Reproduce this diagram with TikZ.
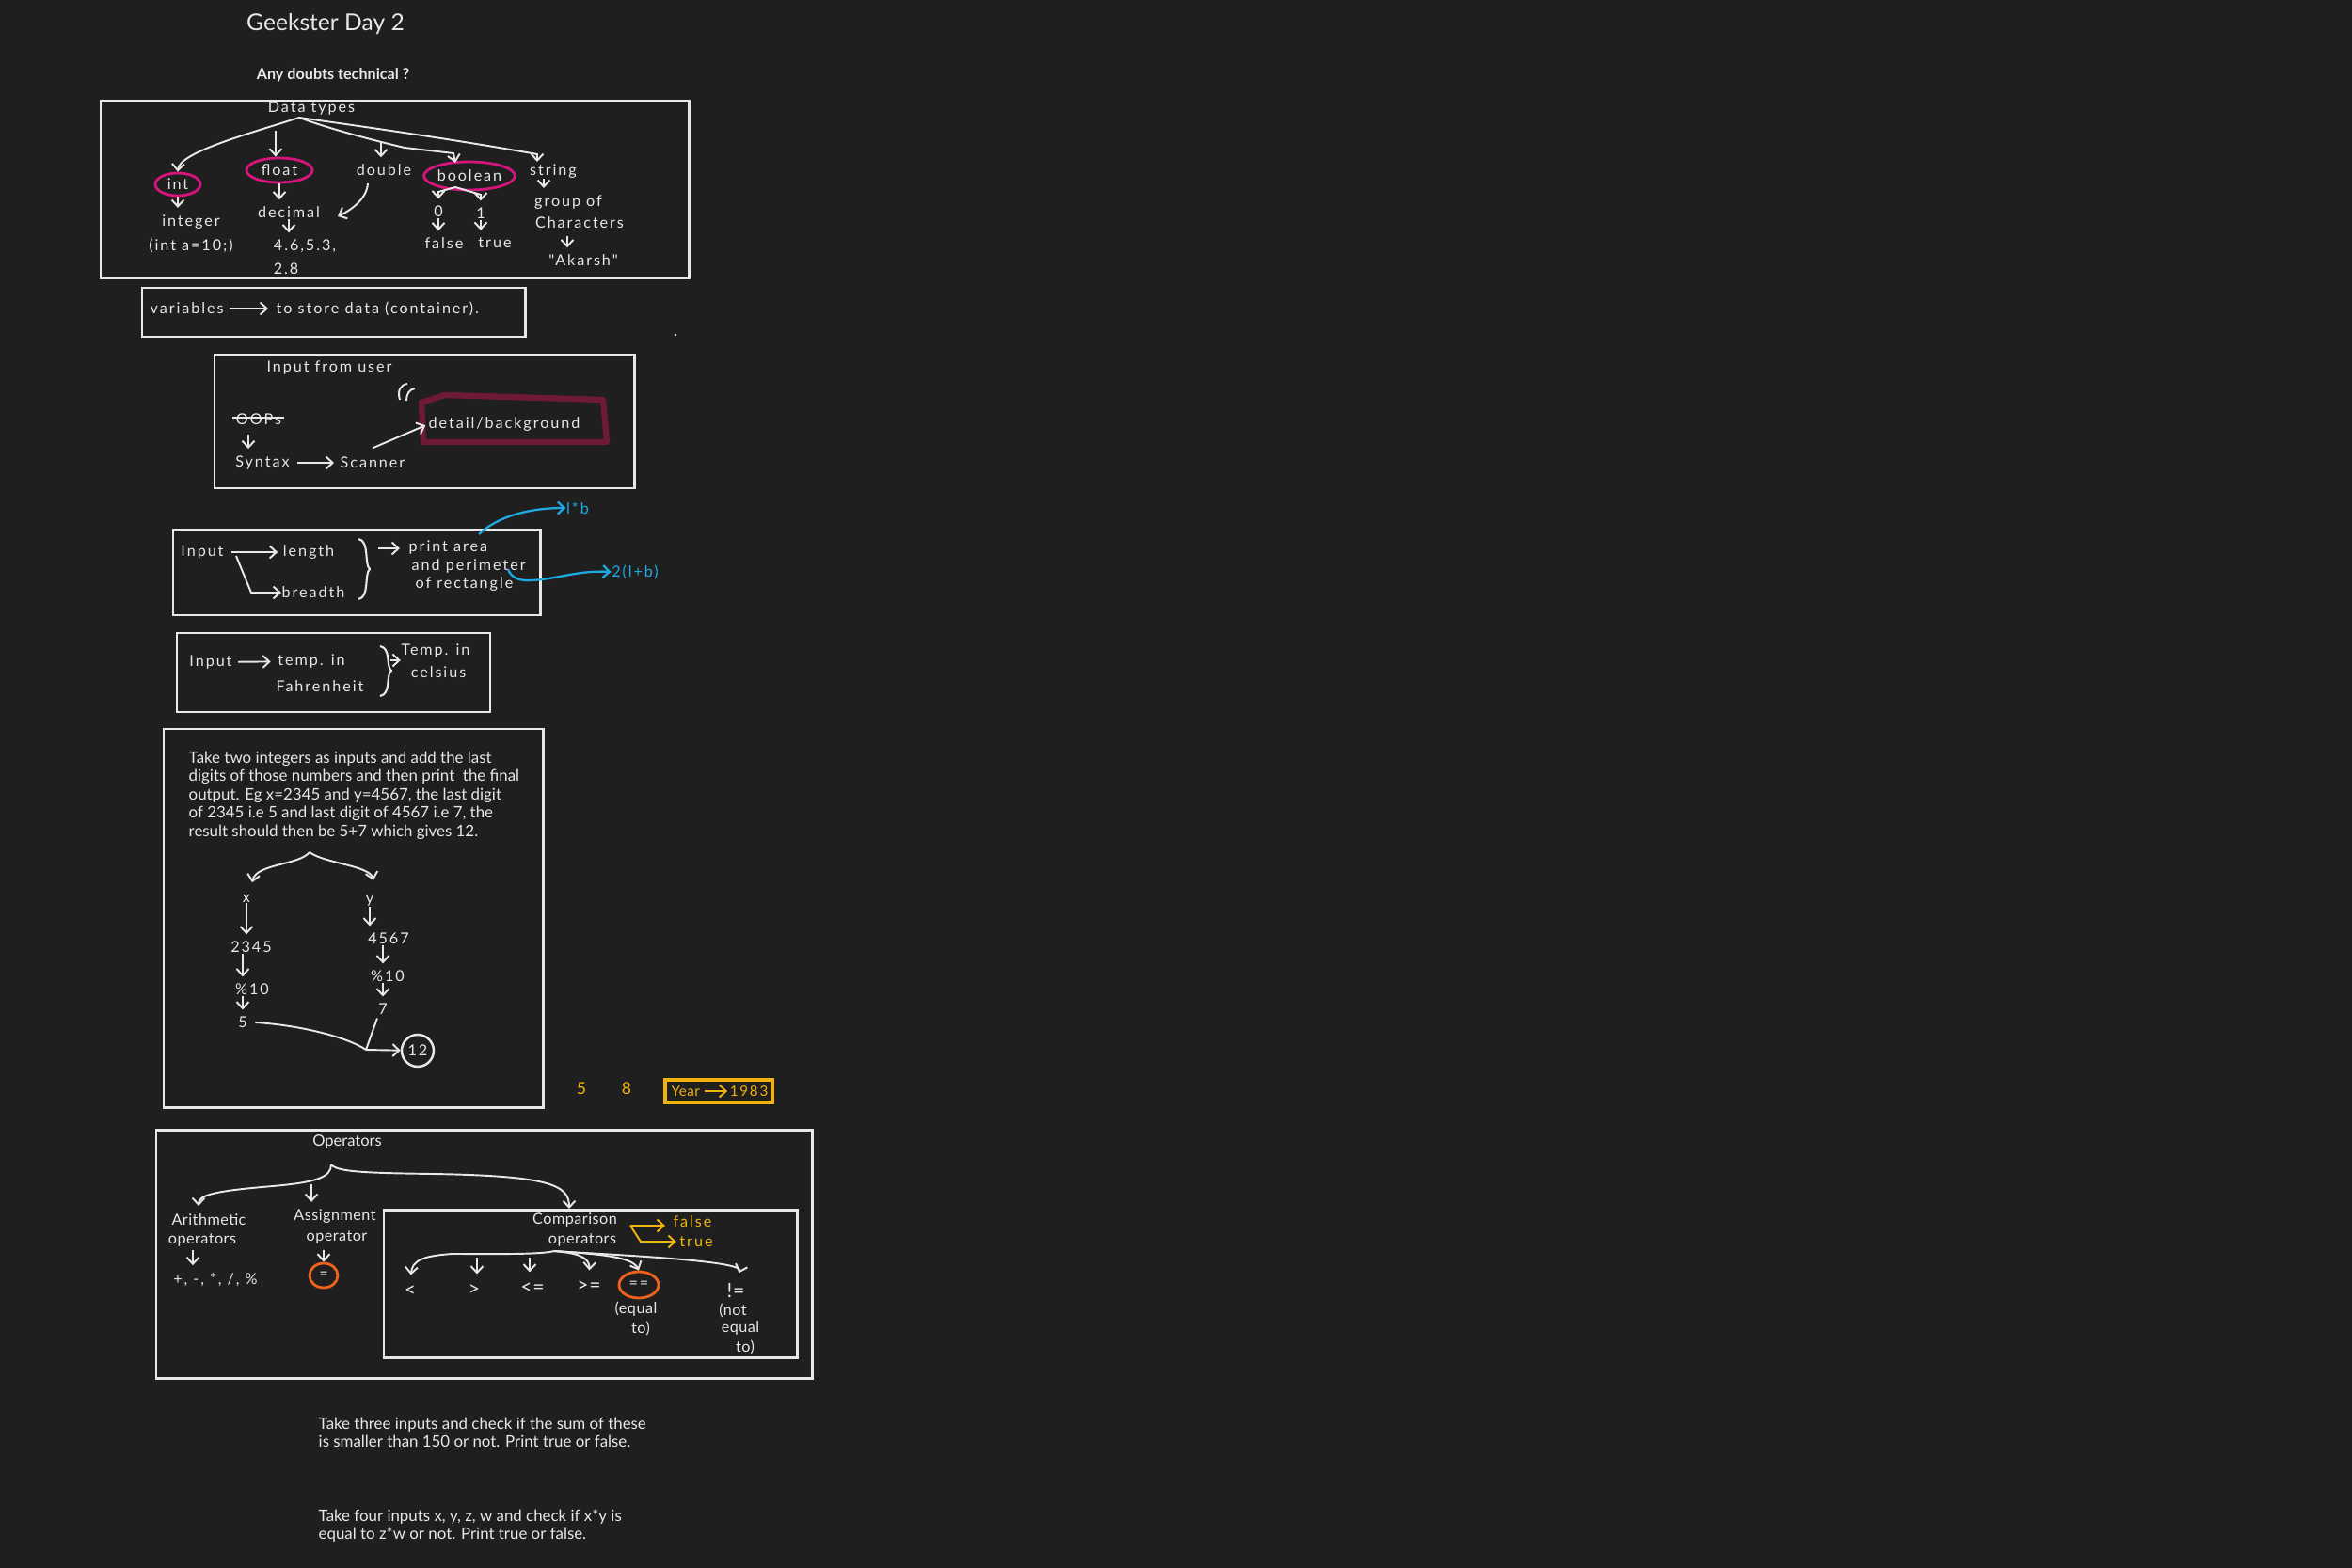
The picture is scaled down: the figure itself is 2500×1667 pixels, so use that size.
\documentclass[tikz,border=0pt]{standalone}
\usepackage{fontspec}
\setmainfont{Lato}
\newfontfamily\spaced[LetterSpace=12]{Lato}
\newfontfamily\narrowhand[LetterSpace=3]{Lato}
\usetikzlibrary{arrows.meta,shapes.geometric}
\definecolor{bg}{HTML}{1F1F1F}
\definecolor{ink}{HTML}{E8E8E8}
\definecolor{mag}{HTML}{D4167C}
\definecolor{wine}{HTML}{6E1A34}
\definecolor{sky}{HTML}{1EA9E2}
\definecolor{gold}{HTML}{F2B30E}
\definecolor{orng}{HTML}{F0611C}
\begin{document}
\begin{tikzpicture}[x=0.1mm,y=-0.1mm,
  lbl/.style={text=ink, inner sep=0pt, font=\spaced\fontsize{4.6}{5.5}\selectfont},
  olbl/.style={text=ink, inner sep=0pt, font=\narrowhand\fontsize{4.6}{5.5}\selectfont},
  sym/.style={text=ink, inner sep=0pt, font=\narrowhand\fontsize{6}{7}\selectfont},
  note/.style={text=ink, inner sep=0pt, align=left, font=\fontsize{4.8}{5.55}\selectfont},
  frame/.style={draw=ink, line width=0.85pt},
  link/.style={draw=ink, line width=0.55pt},
  arr/.style={link, -{Straight Barb[length=0.7mm,width=1.3mm]}},
  sarr/.style={arr, shorten >=0.7mm},
  oval/.style={ellipse, draw=#1, line width=0.8pt, inner sep=0pt, text=ink,
    font=\spaced\fontsize{4.6}{5.5}\selectfont},
  bracket/.style={link, line width=0.6pt},
]
\fill[bg] (0,0) rectangle (2500,1667);
\useasboundingbox (0,0) rectangle (2500,1667);

% ---------- heading ----------
\node[text=ink, inner sep=0pt, font=\fontsize{7}{8}\selectfont] (title) at (346,26) {Geekster Day 2};
\node[text=ink, inner sep=0pt, font=\bfseries\fontsize{4.6}{5.5}\selectfont] (doubts) at (354,80) {Any doubts technical ?};

% ---------- data types ----------
\draw[frame] (107,107) rectangle (732,296);
\node[lbl] (dtypes) at (331,115) {Data types};
\coordinate (fork) at (318,125);
\node[oval=mag, minimum width=4.8mm, minimum height=2.4mm] (int) at (189,196) {int};
\node[oval=mag, minimum width=7mm, minimum height=2.6mm] (float) at (297,181) {float};
\node[lbl] (double) at (408,181) {double};
\node[oval=mag, minimum width=9mm, minimum height=3mm] (bool) at (499,187) {boolean};
\node[lbl] (string) at (588,182) {string};

\coordinate (fa) at (293,139);
\coordinate (da) at (405,151);
\coordinate (bt0) at (484,173);
\coordinate (st0) at (571,172);
\draw[arr] (fork) .. controls (265,142) and (190,162) .. (int.north);
\draw[arr] (fa) -- (fa |- float.north);
\draw[sarr] (da) -- (da |- double.north);
\draw[arr] (fork) .. controls (350,137) and (400,150) .. (430,157) -- (482,163) -- (bt0);
\draw[arr] (fork) .. controls (360,131) and (470,146) .. (571,164) -- (st0);

\node[lbl] (integer) at (203,236) {integer};
\node[lbl] (intex) at (203,261) {(int a=10;)};
\draw[sarr] (int.south) -- (int.south |- integer.north);

\node[lbl] (decimal) at (307,226) {decimal};
\node[lbl] (dvals) at (324,262) {4.6,5.3,};
\node[lbl] (dval2) at (304,286) {2.8};
\draw[sarr] (float.south) -- (float.south |- decimal.north);
\draw[sarr] (decimal.south) -- (decimal.south |- dvals.north);
\coordinate (dc) at (391,195);
\coordinate (dce) at (359,230);
\draw[arr] (dc) .. controls (390,212) and (372,224) .. (dce);

\node[lbl] (b0) at (466,225) {0};
\node[lbl] (b1) at (511,227) {1};
\node[lbl] (bf) at (472,259) {false};
\node[lbl] (bt) at (526,258) {true};
\coordinate (bfork) at (484,199);
\coordinate (bl) at (466,204);
\coordinate (br) at (511,207);
\draw[sarr] (bfork) -- (bl) -- (bl |- b0.north);
\draw[sarr] (bfork) -- (br) -- (br |- b1.north);
\draw[sarr] (b0.south) -- (b0.south |- bf.north);
\draw[sarr] (b1.south) -- (b1.south |- bt.north);

\node[lbl] (grp) at (604,215) {group of};
\node[lbl] (chars) at (616,237) {Characters};
\node[lbl] (akarsh) at (620,277) {"Akarsh"};
\coordinate (sa) at (578,190);
\coordinate (ca) at (603,251);
\draw[sarr] (sa) -- (sa |- grp.north);
\draw[sarr] (ca) -- (ca |- akarsh.north);

% ---------- variables ----------
\draw[frame] (151,306) rectangle (558,358);
\node[lbl, anchor=west] (vars) at (159,328) {variables};
\node[lbl, anchor=west] (store) at (293,328) {to store data (container).};
\draw[arr, shorten <=0.6mm, shorten >=0.8mm] (vars) -- (store);

% ---------- input from user ----------
\draw[frame] (228,377) rectangle (674,519);
\node[lbl] (ifu) at (350,391) {Input from user};
\node[lbl] (oops) at (275,446) {OOPs};
\draw[link] ([xshift=-0.3mm,yshift=0.2mm]oops.west) -- ([xshift=0.2mm,yshift=0.2mm]oops.east);
\node[lbl] (syntax) at (279,492) {Syntax};
\node[lbl] (scanner) at (396,492) {Scanner};
\node[lbl, anchor=west] (detail) at (455,451) {detail/background};
\draw[wine, line width=1.8pt, line join=round] (448,428) -- (473,420) -- (641,425) -- (645,470) -- (450,470) -- cycle;
\draw[link] (425,425) .. controls (422,415) and (426,409) .. (433,408);
\draw[link] (432,426) .. controls (432,419) and (435,414) .. (441,413);
\coordinate (oa) at (264,462);
\draw[sarr] (oa) -- (oa |- syntax.north);
\draw[arr, shorten <=0.8mm, shorten >=0.6mm] (syntax) -- (scanner);
\draw[arr, shorten >=0.3mm] ([yshift=0.9mm]scanner.north) -- (detail.west);
\fill[ink] (718,356) circle (1.4);

% ---------- rectangle ----------
\draw[frame] (184,563) rectangle (574,654);
\node[lbl] (inp1) at (215,587) {Input};
\node[lbl] (len) at (328,587) {length};
\node[lbl] (bre) at (333,630) {breadth};
\draw[arr, shorten <=0.8mm, shorten >=0.5mm] (inp1) -- (len);
\coordinate (ib) at (251,591);
\draw[arr] (ib) -- (267,630) -- (bre);
\draw[bracket] (381,573) .. controls (393,575) and (387,600) .. (393,605)
  .. controls (387,610) and (393,635) .. (381,637);
\node[lbl, anchor=west] (parea) at (434,582) {print area};
\node[lbl, anchor=west] (pper) at (437,602) {and perimeter};
\node[lbl, anchor=west] (prect) at (441,621) {of rectangle};
\coordinate (b1t) at (402,583);
\draw[arr, shorten >=0.9mm] (b1t) -- (b1t -| parea.west);

\node[lbl, text=sky] (lb) at (614,540) {l*b};
\node[lbl, text=sky] (lpb) at (675,608) {2(l+b)};
\coordinate (bs1) at (509,568);
\coordinate (bs2) at (540,605);
\draw[arr, draw=sky, line width=0.65pt] (bs1) .. controls (530,548) and (565,540) .. (lb.west);
\draw[arr, draw=sky, line width=0.65pt] (bs2) .. controls (543,614) and (552,618) .. (565,617)
  .. controls (590,616) and (615,606) .. (lpb.west);

% ---------- temperature ----------
\draw[frame] (188,673) rectangle (521,757);
\node[lbl] (inp2) at (224,704) {Input};
\node[lbl] (tin) at (331,703) {temp. in};
\node[lbl] (fah) at (340,730) {Fahrenheit};
\draw[arr, shorten <=0.6mm, shorten >=0.7mm] (inp2) -- (tin);
\draw[bracket] (404,687) .. controls (416,689) and (410,709) .. (416,713)
  .. controls (410,717) and (416,738) .. (404,740);
\node[lbl] (tcel) at (463,692) {Temp. in};
\node[lbl] (cels) at (466,715) {celsius};
\coordinate (b2t) at (415,702);
\draw[arr] (b2t) -- (b2t -| tcel.west);

% ---------- last digits ----------
\draw[frame] (174,775) rectangle (577,1177);
\node[note, anchor=north west] (task1) at (200,798) {Take two integers as inputs and add the last\\
digits of those numbers and then print \ the final\\
output. Eg x=2345 and y=4567, the last digit\\
of 2345 i.e 5 and last digit of 4567 i.e 7, the\\
result should then be 5+7 which gives 12.};
\coordinate (tfork) at (329,906);
\node[lbl] (x) at (262,955) {x};
\node[lbl] (y) at (393,958) {y};
\draw[arr] (tfork) .. controls (318,920) and (272,918) .. ([xshift=0.6mm,yshift=1.2mm]x.north);
\draw[arr] (tfork) .. controls (345,918) and (393,920) .. ([xshift=0.4mm,yshift=1.6mm]y.north);
\node[lbl] (n2345) at (267,1007) {2345};
\node[lbl] (m1) at (268,1052) {\%10};
\node[lbl] (d5) at (258,1087) {5};
\node[lbl] (n4567) at (413,998) {4567};
\node[lbl] (m2) at (412,1038) {\%10};
\node[lbl] (d7) at (407,1073) {7};
\draw[sarr] (x.south) -- (x.south |- n2345.north);
\draw[sarr] (d5 |- n2345.south) -- (d5 |- m1.north);
\draw[sarr] (d5 |- m1.south) -- (d5.north);
\draw[sarr] (y.south) -- (y.south |- n4567.north);
\draw[sarr] (d7 |- n4567.south) -- (d7 |- m2.north);
\draw[sarr] (d7 |- m2.south) -- (d7.north);
\node[lbl, circle, draw=ink, line width=0.7pt, minimum size=3.4mm] (res) at (444,1117) {12};
\coordinate (join) at (389,1116);
\draw[link] ([xshift=0.8mm]d5.east) .. controls (320,1090) and (370,1103) .. (join);
\draw[link] ([xshift=-0.6mm,yshift=-0.3mm]d7.south) -- (join);
\draw[arr] (join) -- (res);

% ---------- year ----------
\node[text=gold, inner sep=0pt, font=\fontsize{5}{6}\selectfont] (five) at (618,1157) {5};
\node[text=gold, inner sep=0pt, font=\fontsize{5}{6}\selectfont] (eight) at (666,1157) {8};
\draw[gold, line width=0.9pt] (707,1148) rectangle (821,1172);
\node[text=gold, inner sep=0pt, anchor=west, font=\narrowhand\fontsize{4.3}{5}\selectfont] (year) at (713,1160) {Year};
\node[text=gold, inner sep=0pt, anchor=east, font=\spaced\fontsize{4.3}{5}\selectfont] (yr) at (817,1160) {1983};
\draw[arr, draw=gold, shorten <=0.4mm, shorten >=0.2mm] (year) -- (yr);

% ---------- operators ----------
\draw[frame] (166,1201) rectangle (863,1465);
\node[text=ink, inner sep=0pt, font=\fontsize{4.7}{5.6}\selectfont] (ops) at (369,1214) {Operators};
\coordinate (ofork) at (352,1238);
\node[olbl] (arith) at (222,1297) {Arithmetic};
\node[olbl] (arith2) at (215,1318) {operators};
\node[lbl] (aops) at (229,1360) {+, -, *, /, \%};
\node[olbl] (assign) at (356,1293) {Assignment};
\node[olbl] (assign2) at (358,1315) {operator};
\node[oval=orng, minimum width=3mm, minimum height=2.6mm] (eq) at (344,1356) {=};
\coordinate (al) at (211,1282);
\coordinate (ma) at (331,1259);
\coordinate (cb) at (605,1285);
\coordinate (aa) at (205,1329);
\draw[arr] (ofork) .. controls (352,1252) and (335,1257) .. (290,1261)
  .. controls (230,1266) and (211,1270) .. (al);
\draw[sarr] (ma) -- (ma |- assign.north);
\draw[arr] (ofork) .. controls (358,1246) and (390,1247) .. (460,1248)
  .. controls (585,1250) and (605,1260) .. (cb);
\draw[sarr] (aa) -- (aa |- aops.north);
\draw[arr, shorten <=0.6mm] (eq |- assign2.south) -- (eq.north);

% comparison operators
\draw[frame] (408,1286) rectangle (847,1443);
\node[olbl] (cmp) at (611,1297) {Comparison};
\node[olbl] (cmp2) at (619,1318) {operators};
\node[lbl, text=gold] (cf) at (736,1299) {false};
\node[lbl, text=gold] (ct) at (740,1320) {true};
\coordinate (cy) at (670,1303);
\draw[arr, draw=gold, shorten >=0.8mm] (cy) -- (cy -| cf.west);
\draw[arr, draw=gold, shorten >=0.3mm] (cy) -- (681,1320) -- (ct);

\coordinate (cfork) at (589,1330);
\node[sym] (lt) at (436,1373) {<};
\node[sym] (gt) at (504,1372) {>};
\node[sym] (le) at (566,1370) {<=};
\node[sym] (ge) at (626,1368) {>=};
\node[oval=orng, minimum width=4.2mm, minimum height=2.8mm] (eqeq) at (679,1366) {==};
\node[olbl] (eqd) at (676,1392) {(equal};
\node[olbl] (eqd2) at (681,1412) {to)};
\node[sym] (ne) at (782,1372) {!=};
\node[olbl] (ne1) at (779,1393) {(not};
\node[olbl] (ne2) at (787,1412) {equal};
\node[olbl] (ne3) at (792,1432) {to)};
\coordinate (g1) at (507,1337);
\coordinate (g2) at (563,1337);
\draw[arr, shorten >=1.1mm] (cfork) .. controls (575,1334) and (520,1333) .. (481,1333)
  .. controls (450,1335) and (438,1340) .. (lt.north);
\draw[arr, shorten >=1.1mm] (g1) -- (g1 |- gt.north);
\draw[arr, shorten >=1.1mm] (g2) -- (g2 |- le.north);
\draw[arr, shorten >=1.1mm] (cfork) .. controls (612,1332) and (627,1336) .. (ge.north);
\draw[arr] (cfork) .. controls (630,1333) and (672,1335) .. (eqeq.north);
\draw[arr, shorten >=1.1mm] (cfork) .. controls (650,1334) and (790,1340) .. (ne.north);

% ---------- exercises ----------
\node[note, anchor=north west] (task2) at (338,1506) {Take three inputs and check if the sum of these\\
is smaller than 150 or not. Print true or false.};
\node[note, anchor=north west] (task3) at (338,1604) {Take four inputs x, y, z, w and check if x*y is\\
equal to z*w or not. Print true or false.};
\end{tikzpicture}
\end{document}
